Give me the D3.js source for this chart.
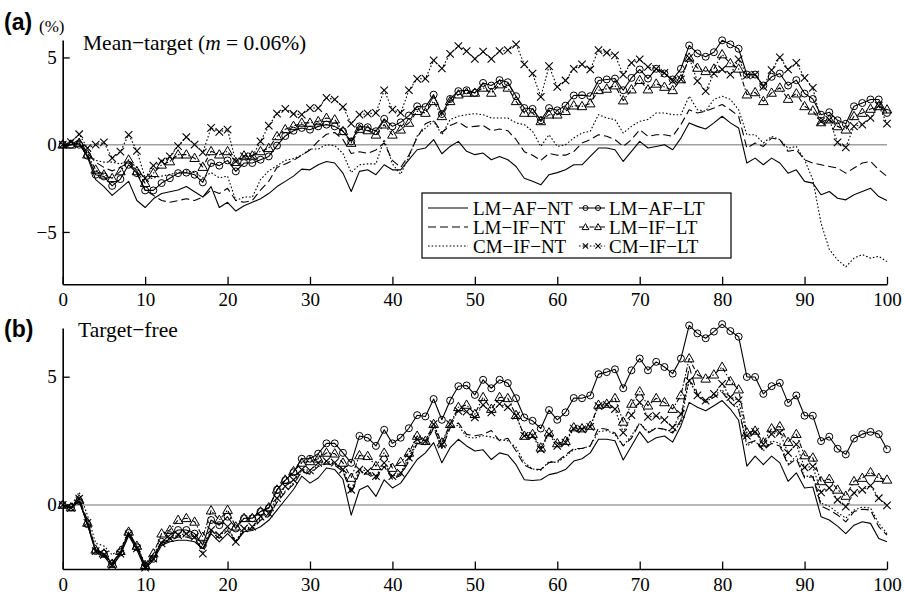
<!DOCTYPE html>
<html><head><meta charset="utf-8">
<script src="https://cdn.jsdelivr.net/npm/d3@7"></script>
<style>body{margin:0;background:#fff}svg{display:block}</style>
</head><body>
<script>
// x categories (0..100)
const steps = d3.range(0, 101);
const xTicksMajor = [0,10,20,30,40,50,60,70,80,90,100];
const yTicksA = [-5, 0, 5];
const yTicksB = [0, 5];
const seriesNames = ["LM−AF−NT","LM−IF−NT","CM−IF−NT","LM−AF−LT","LM−IF−LT","CM−IF−LT"];

// Panel (a) Mean-target
const aLMAFNT = [0,0,0.1,-0.7,-2.0,-2.4,-2.9,-2.5,-2.1,-3.2,-3.6,-3.1,-2.8,-2.7,-2.6,-2.4,-2.7,-3.0,-2.4,-3.6,-3.3,-3.8,-3.5,-3.3,-3.1,-2.8,-2.4,-2.1,-1.8,-1.4,-1.44,-1.15,-0.96,-1.05,-1.63,-2.68,-1.53,-1.44,-1.72,-1.15,-1.44,-1.44,-0.86,-0.29,-0.19,0.29,-0.52,-0.1,0.19,-0.38,-0.57,-0.48,-0.86,-0.67,-0.86,-1.25,-1.92,-2.1,-2.3,-1.72,-1.6,-1.44,-1.15,-1.15,-0.67,-0.19,-0.19,-0.29,-0.96,-0.38,0.19,-0.19,-0.1,0,-0.29,0.38,1.25,1.05,0.9,1.25,1.63,1.25,0.96,-1.05,-0.77,-1.15,-0.77,-1.05,-1.63,-1.44,-2.1,-2.2,-2.87,-2.68,-3.07,-3.16,-2.87,-2.68,-2.49,-2.97,-3.2];
const aLMIFNT = [0,0,0.3,-0.5,-1.0,-1.3,-1.5,-1.3,-1.0,-1.6,-2.6,-2.9,-3.2,-3.3,-3.2,-3.1,-3.2,-3.0,-2.6,-2.8,-2.5,-3.2,-3.3,-3.2,-2.6,-2.1,-1.3,-1.1,-0.9,-0.6,-0.3,0.2,0.6,0.7,0.3,-0.5,-0.4,-0.5,-0.3,0.1,-0.9,-1.3,-0.6,0.4,1.2,1.4,0.7,1.1,1.3,1.0,1.05,1.1,0.8,0.9,0.8,0.3,-0.4,-0.6,-0.9,-0.5,-0.6,-0.6,-0.4,0.1,0.29,0.57,0.48,0.29,-0.1,0.29,0.86,0.48,0.57,0.57,0.48,1.15,2.0,1.82,1.92,2.1,2.3,2.0,1.63,-0.19,0.1,-0.1,0.38,0.29,-0.38,-0.29,-0.86,-1.05,-1.15,-1.25,-1.34,-1.63,-1.34,-1.05,-0.96,-1.44,-1.82];
const aCMIFNT = [0,0,0.2,-0.5,-0.9,-1.0,-1.0,-1.1,-0.9,-1.3,-2.0,-1.9,-1.8,-1.7,-1.6,-1.5,-1.6,-1.9,-1.6,-1.9,-1.8,-3.2,-3.0,-3.0,-2.0,-1.5,-1.2,-0.9,-0.8,-0.6,-0.25,-0.25,0,-0.05,-0.5,-1.6,-1.15,-1.1,-1.1,0.3,-1.1,-1.7,-0.7,0.5,0.95,1.35,0.57,1.44,1.63,1.72,1.78,1.72,1.53,1.53,1.53,1.25,1.15,0.77,-0.1,0.57,-0.1,0,0.38,0.67,0.77,1.72,1.53,1.44,0.67,1.05,1.34,1.44,1.82,1.82,1.72,1.72,2.78,2.0,1.92,2.6,2.78,2.6,2.0,0.57,0.57,0.1,0.48,0.29,-0.2,-0.1,-0.86,-2.0,-4.5,-6.0,-6.6,-7.0,-6.5,-6.3,-6.5,-6.4,-6.7];
const aLMAFLT = [0,0,0,-0.63,-1.72,-1.82,-2.36,-1.97,-1.15,-1.63,-2.62,-2.62,-2.2,-1.92,-1.63,-1.6,-1.72,-2.16,-1.05,-1.2,-0.9,-1.53,-1.05,-1.05,-0.86,-0.67,-0.05,0.5,0.8,0.96,0.86,1.05,1.15,1.05,0.77,0.19,1.05,1.0,0.77,1.48,1.05,1.28,1.67,2.2,2.16,2.87,1.76,2.62,3.07,3.12,2.97,3.54,3.39,3.7,3.58,2.78,2.1,2.05,1.4,2.1,1.97,2.24,2.82,2.84,2.78,3.68,3.74,3.79,3.12,3.83,4.31,3.79,4.35,4.08,3.74,4.35,5.69,5.23,5.04,5.3,5.98,5.75,5.5,4.02,4.02,3.39,3.89,4.08,3.39,3.7,2.93,2.62,1.72,1.86,1.4,1.2,2.2,2.39,2.59,2.59,1.82];
const aLMIFLT = [0,0,0.1,-0.57,-1.44,-1.72,-1.92,-1.53,-0.86,-1.53,-2.2,-1.63,-1.15,-0.96,-0.57,-0.57,-0.77,-1.28,-0.38,-0.57,-0.38,-1.0,-0.63,-0.63,-0.38,-0.2,0.48,0.88,1.07,1.25,1.25,1.34,1.53,1.44,0.77,0.1,0.9,0.82,0.57,1.15,0.57,0.86,1.25,1.92,1.82,2.49,1.63,2.49,2.87,2.97,2.97,3.26,2.97,3.45,3.26,2.49,1.82,1.82,1.34,1.72,1.72,1.92,2.24,2.2,2.36,3.12,3.2,3.39,2.53,3.16,3.7,3.16,3.49,3.31,3.12,3.74,4.98,4.4,4.21,4.35,5.17,4.66,4.35,2.87,3.0,2.49,2.97,3.26,2.62,2.93,2.2,1.95,1.28,1.44,1.05,0.86,1.63,1.82,2.05,2.2,2.01];
const aCMIFLT = [0,0.15,0.6,-0.19,0,0.13,-0.77,-0.4,0.57,-0.35,-1.92,-1.2,-0.96,-0.67,-0.08,0.44,0,-0.44,0.96,0.74,0.86,-0.96,-0.67,-0.67,0.19,1.09,1.78,2.05,1.76,1.72,2.1,2.1,2.68,2.59,2.16,1.21,1.72,1.78,1.82,3.12,2.01,1.82,3.12,3.77,3.79,4.83,4.37,5.21,5.65,5.36,4.92,5.33,4.92,5.36,5.42,5.75,4.6,4.08,2.74,4.5,3.31,3.68,4.35,4.6,4.31,5.42,5.27,5.12,4.02,4.69,4.89,4.46,4.35,4.12,3.64,3.74,4.98,3.64,3.07,4.08,4.31,4.02,4.89,3.97,4.02,3.31,4.27,5.0,4.31,4.69,3.83,3.26,1.34,1.44,0.13,-0.15,1.05,1.15,1.53,2.24,1.21];

// Panel (b) Target-free
const bLMAFNT = [0,-0.15,0.15,-0.75,-1.85,-2.0,-2.4,-1.95,-1.2,-1.75,-2.5,-2.15,-1.57,-1.44,-1.38,-1.38,-1.44,-1.7,-1.12,-1.44,-1.12,-1.44,-1.05,-1.0,-0.85,-0.6,-0.2,0.2,0.6,1.12,0.85,1.05,1.44,1.38,1.0,-0.4,0.59,0.75,0.33,0.98,0.66,0.85,1.31,1.77,2.03,2.43,1.64,2.23,2.56,2.3,2.1,2.15,1.77,2.03,1.95,1.57,0.98,0.95,0.98,1.18,1.25,1.38,1.71,1.8,2.03,2.56,2.56,2.5,1.75,2.3,2.85,2.43,2.62,2.69,2.45,3.08,4.0,3.81,3.67,3.87,4.07,3.74,3.3,1.51,1.9,1.57,1.9,1.64,0.92,1.25,0.66,0.7,-0.46,-0.59,-0.83,-1.12,-0.79,-0.66,-0.72,-1.31,-1.44];
const bLMIFNT = [0,-0.1,0.25,-0.6,-1.75,-1.9,-2.25,-1.85,-1.15,-1.65,-2.35,-2.0,-1.5,-1.4,-1.25,-1.25,-1.35,-1.75,-1.05,-1.3,-1.0,-1.45,-1.0,-0.95,-0.6,-0.45,0.1,0.5,0.8,1.3,1.2,1.5,1.6,1.55,1.3,0.45,1.25,1.2,1.0,1.5,1.0,1.15,1.7,2.4,2.35,3.0,2.2,3.0,3.2,2.75,2.7,2.75,2.9,2.5,2.6,2.1,1.55,1.4,1.38,1.65,1.7,1.95,2.2,2.2,2.3,3.0,2.95,2.8,2.3,2.6,3.2,2.8,3.0,2.95,2.8,3.3,5.4,4.3,4.0,4.2,4.4,4.0,3.7,2.4,2.5,2.15,2.4,2.3,1.55,1.8,1.05,1.1,-0.04,-0.2,-0.39,-0.66,-0.26,-0.17,-0.2,-0.85,-1.18];
const bCMIFNT = [0,-0.05,0.5,-0.4,-1.5,-1.6,-1.95,-1.7,-1.1,-1.6,-2.3,-1.95,-1.45,-1.35,-1.2,-1.2,-1.3,-1.7,-1.0,-1.2,-0.95,-1.4,-0.95,-0.9,-0.55,-0.4,0.15,0.55,0.85,1.35,1.25,1.55,1.65,1.6,1.35,0.5,1.3,1.25,1.05,1.55,1.05,1.2,1.75,2.45,2.4,3.05,2.25,3.05,3.1,2.65,2.6,2.7,2.65,2.55,2.5,2.25,1.65,1.4,1.35,1.7,1.65,1.9,2.15,2.2,2.3,2.85,2.9,2.75,2.3,2.7,3.2,2.85,3.0,2.95,2.85,3.2,4.9,4.3,4.0,4.25,4.5,4.0,3.8,2.3,2.5,2.1,2.5,2.4,1.6,1.9,1.1,1.15,0.07,-0.05,-0.3,-0.52,-0.2,-0.09,-0.12,-0.72,-1.12];
const bLMAFLT = [0,-0.1,0.15,-0.75,-1.8,-1.9,-2.3,-1.85,-1.1,-1.65,-2.4,-2.1,-1.44,-1.18,-0.98,-0.98,-1.12,-1.57,-0.59,-0.79,-0.46,-0.92,-0.52,-0.52,-0.26,-0.13,0.59,0.96,1.27,1.8,1.8,2.0,2.4,2.4,2.03,1.64,2.69,2.62,2.3,2.93,2.4,2.62,2.99,3.5,3.45,4.13,3.32,4.07,4.63,4.66,4.29,4.88,4.55,4.88,4.75,4.16,3.41,3.28,2.98,3.7,3.32,3.61,4.17,4.16,4.27,5.1,5.18,5.29,4.55,5.25,5.71,5.25,5.58,5.38,5.12,5.71,7.0,6.69,6.5,6.76,7.05,6.78,6.56,4.99,4.99,4.33,4.63,4.76,3.98,4.27,3.48,3.48,2.49,2.66,2.19,1.97,2.59,2.76,2.85,2.76,2.17];
const bLMIFLT = [0,-0.1,0.2,-0.7,-1.75,-1.9,-2.3,-1.8,-1.05,-1.6,-2.35,-1.9,-1.12,-0.98,-0.59,-0.52,-0.66,-1.25,-0.22,-0.59,-0.2,-0.85,-0.52,-0.52,-0.26,-0.1,0.59,0.98,1.31,1.64,1.7,1.8,2.03,2.0,1.64,1.05,1.93,1.9,1.51,2.03,1.44,1.67,2.03,2.69,2.49,3.15,2.43,3.15,3.81,3.9,3.54,4.2,3.74,4.2,4.16,3.5,2.69,2.76,2.23,2.82,2.4,2.49,3.02,2.98,3.08,3.9,3.94,4.16,3.24,3.94,4.42,3.87,4.16,4.0,3.74,4.27,5.71,5.08,4.92,5.08,5.38,4.82,4.5,2.82,2.89,2.43,2.98,3.06,2.45,2.76,1.93,1.84,0.92,1.01,0.59,0.35,0.92,1.05,1.27,1.05,0.98];
const bCMIFLT = [0,-0.12,0.25,-0.7,-1.8,-1.95,-2.35,-1.9,-1.15,-1.7,-2.45,-2.1,-1.5,-1.3,-1.18,-1.12,-1.25,-1.9,-0.98,-1.18,-0.85,-1.44,-0.92,-0.85,-0.46,-0.33,0.26,0.72,0.98,1.38,1.35,1.64,1.71,1.65,1.38,0.59,1.38,1.32,1.12,1.64,1.12,1.25,1.84,2.56,2.49,3.15,2.36,3.15,3.67,3.64,3.41,3.9,3.61,3.94,3.81,3.48,2.69,2.69,2.17,2.76,2.3,2.43,2.98,2.95,3.04,3.85,3.9,3.74,2.82,3.5,4.0,3.43,3.47,3.32,3.02,3.54,4.84,4.27,4.07,4.33,4.72,4.2,4.08,2.7,2.85,2.36,2.76,2.82,2.03,2.36,1.46,1.5,0.49,0.66,0.2,-0.07,0.47,0.59,0.75,0.26,-0.02];

const W = 905, H = 596;
const svg = d3.select("body").append("svg").attr("width", W).attr("height", H);
const x = d3.scaleLinear([0, 100], [62.7, 887]);
const yA = d3.scaleLinear([-8, 6], [284.3, 40]);
const yB = d3.scaleLinear([-2.5, 6.9], [569, 328]);

const styles = [
  {dash: null, marker: null},
  {dash: "8,4", marker: null},
  {dash: "1.6,2", marker: null},
  {dash: null, marker: "circle"},
  {dash: "5,2,1.5,2", marker: "triangle"},
  {dash: "1.6,2", marker: "x"}
];
const serif = "'Liberation Serif','Times New Roman',serif";

function drawMarker(g, type, cx, cy, s) {
  if (type === "circle") {
    g.append("circle").attr("cx", cx).attr("cy", cy).attr("r", 3.5 * s)
      .attr("fill", "none").attr("stroke", "#000").attr("stroke-width", 1);
  } else if (type === "triangle") {
    g.append("path").attr("d", d3.symbol(d3.symbolTriangle, 40 * s * s)())
      .attr("transform", `translate(${cx},${cy + 0.6})`)
      .attr("fill", "none").attr("stroke", "#000").attr("stroke-width", 1);
  } else if (type === "x") {
    g.append("path").attr("d", d3.symbol(d3.symbolX, 38 * s * s)())
      .attr("transform", `translate(${cx},${cy})`)
      .attr("fill", "none").attr("stroke", "#000").attr("stroke-width", 1.1);
  }
}

function panel(y, data, majorY, minorY) {
  const g = svg.append("g");
  g.append("line").attr("x1", x(0)).attr("x2", x(100)).attr("y1", y(0)).attr("y2", y(0))
    .attr("stroke", "#a0a0a0").attr("stroke-width", 1.5);
  const gx = g.append("g").attr("transform", `translate(0,${y.range()[0]})`);
  gx.call(d3.axisBottom(x).tickValues(d3.range(0, 101, 2)).tickSize(-4).tickSizeOuter(0).tickFormat(""));
  gx.call(d3.axisBottom(x).tickValues(xTicksMajor).tickSize(-7.5).tickSizeOuter(0).tickPadding(7));
  const gy = g.append("g").attr("transform", `translate(${x(0)},0)`);
  gy.call(d3.axisLeft(y).tickValues(minorY).tickSize(-4).tickSizeOuter(0).tickFormat(""));
  gy.call(d3.axisLeft(y).tickValues(majorY).tickSize(-7).tickSizeOuter(0).tickPadding(6));
  [gx, gy].forEach(a => {
    a.selectAll("path.domain").attr("stroke", "#000").attr("stroke-width", 1.6);
    a.selectAll("line").attr("stroke", "#000").attr("stroke-width", 1.3);
    a.selectAll("text").attr("font-family", serif).attr("font-size", 19).attr("fill", "#000");
  });
  gx.selectAll("text").attr("dy", "0.8em");
  data.forEach((arr, k) => {
    const st = styles[k];
    const line = d3.line().x((d, i) => x(steps[i])).y(d => y(d));
    g.append("path").attr("d", line(arr)).attr("fill", "none").attr("stroke", "#000")
      .attr("stroke-width", 1.1).attr("stroke-dasharray", st.dash).attr("stroke-linejoin", "round");
  });
  data.forEach((arr, k) => {
    const st = styles[k];
    if (!st.marker) return;
    const mg = g.append("g");
    arr.forEach((d, i) => drawMarker(mg, st.marker, x(steps[i]), y(d), 1));
  });
  return g;
}

panel(yA, [aLMAFNT, aLMIFNT, aCMIFNT, aLMAFLT, aLMIFLT, aCMIFLT], yTicksA,
  [-8,-7,-6,-4,-3,-2,-1,1,2,3,4,6]);
panel(yB, [bLMAFNT, bLMIFNT, bCMIFNT, bLMAFLT, bLMIFLT, bCMIFLT], yTicksB,
  [-2,-1,1,2,3,4,6,6.9]);

// panel labels
svg.append("text").attr("x", 4).attr("y", 30).attr("font-family", "'Liberation Sans',Arial,sans-serif")
  .attr("font-weight", "bold").attr("font-size", 23).text("(a)");
svg.append("text").attr("x", 39).attr("y", 32).attr("font-family", serif).attr("font-size", 17).text("(%)");
svg.append("text").attr("x", 4).attr("y", 337).attr("font-family", "'Liberation Sans',Arial,sans-serif")
  .attr("font-weight", "bold").attr("font-size", 23).text("(b)");

const t1 = svg.append("text").attr("x", 83).attr("y", 50).attr("font-family", serif).attr("font-size", 21.5);
t1.append("tspan").text("Mean−target (");
t1.append("tspan").attr("font-style", "italic").text("m");
t1.append("tspan").text(" = 0.06%)");
svg.append("text").attr("x", 78).attr("y", 337).attr("font-family", serif).attr("font-size", 21.5).text("Target−free");

// legend
const lg = svg.append("g");
lg.append("rect").attr("x", 422).attr("y", 193).attr("width", 309).attr("height", 65)
  .attr("fill", "#fff").attr("stroke", "#000").attr("stroke-width", 1.2);
const rowsY = [208, 227, 246];
seriesNames.forEach((name, k) => {
  const col = k < 3 ? 0 : 1, row = k % 3;
  const st = styles[k];
  const x0 = col === 0 ? 428 : 579, x1 = col === 0 ? 468 : 605;
  const yy = rowsY[row];
  lg.append("line").attr("x1", x0).attr("x2", x1).attr("y1", yy).attr("y2", yy)
    .attr("stroke", "#000").attr("stroke-width", 1.05).attr("stroke-dasharray", st.dash);
  if (st.marker) {
    drawMarker(lg, st.marker, 585.5, yy, 0.72);
    drawMarker(lg, st.marker, 598, yy, 0.72);
  }
  lg.append("text").attr("x", col === 0 ? 473 : 609).attr("y", yy + 6.5)
    .attr("font-family", serif).attr("font-size", 19).text(name);
});
</script>
</body></html>
